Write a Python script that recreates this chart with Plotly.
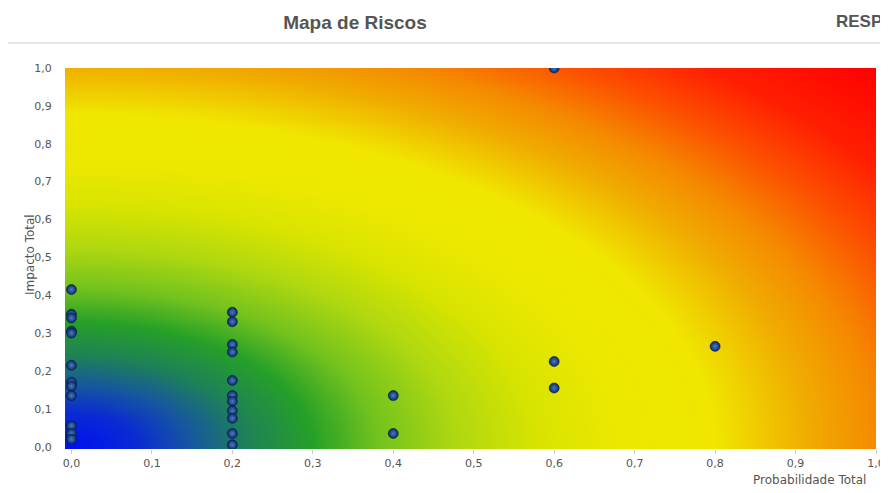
import numpy as np
import plotly.graph_objects as go

# ---- data ----
prob_0 = [0.0] * 12
imp_0 = [0.415, 0.35, 0.34, 0.305, 0.30, 0.215, 0.17, 0.16, 0.135, 0.055, 0.035, 0.02]
prob_2 = [0.2] * 11
imp_2 = [0.355, 0.33, 0.27, 0.25, 0.175, 0.135, 0.12, 0.095, 0.075, 0.035, 0.005]
prob_4 = [0.4, 0.4]
imp_4 = [0.135, 0.035]
prob_6 = [0.6, 0.6, 0.6]
imp_6 = [1.0, 0.225, 0.155]
prob_8 = [0.8]
imp_8 = [0.265]

probabilidade = prob_0 + prob_2 + prob_4 + prob_6 + prob_8
impacto = imp_0 + imp_2 + imp_4 + imp_6 + imp_8

tick_vals = [0.0, 0.1, 0.2, 0.3, 0.4, 0.5, 0.6, 0.7, 0.8, 0.9, 1.0]
tick_text = ["0,0", "0,1", "0,2", "0,3", "0,4", "0,5", "0,6", "0,7", "0,8", "0,9", "1,0"]

# ---- background risk gradient (radial from origin) ----
gx = np.linspace(-0.01, 1.0, 161)
gy = np.linspace(-0.006, 1.0, 121)
GX, GY = np.meshgrid(gx, gy)
D = np.sqrt(np.clip(GX, 0, None) ** 2 + (np.clip(GY, 0, None) / 1.1) ** 2)

dmax = 1.35
stops = [
    (0.00, "#0010f0"),
    (0.08, "#0a2ad4"),
    (0.15, "#16589e"),
    (0.22, "#1e8256"),
    (0.30, "#26a028"),
    (0.38, "#72c21e"),
    (0.48, "#b0d810"),
    (0.58, "#d8e400"),
    (0.68, "#ece800"),
    (0.80, "#f0e600"),
    (0.86, "#f0c800"),
    (0.92, "#f0aa00"),
    (1.00, "#f58a00"),
    (1.10, "#fc5000"),
    (1.20, "#ff2000"),
    (1.35, "#ff0000"),
]
colorscale = [[s / dmax, c] for s, c in stops]

fig = go.Figure()
fig.add_trace(go.Heatmap(
    x=gx, y=gy, z=D, zmin=0, zmax=dmax,
    colorscale=colorscale, showscale=False, zsmooth="best",
    hoverinfo="skip",
))
fig.add_trace(go.Scatter(
    x=probabilidade, y=impacto, mode="markers",
    marker=dict(size=10, color="#0a2a66",
                gradient=dict(type="radial", color="#4a7cc4"),
                line=dict(width=0.6, color="#031a44")),
    cliponaxis=True, showlegend=False,
))

# the page adds an 8px body margin, so the figure is placed 8px in
OFF = 8
W, H = 888 - OFF, 493 - OFF
ml, mr, mt = 65 - OFF, 12, 68 - OFF
mb = (H + OFF) - 449
pw = W - ml - mr
ph = H - mt - mb

def px_x(p):
    return (p - OFF - ml) / pw

def px_y(p):
    return (H - mb - (p - OFF)) / ph

fig.update_layout(
    width=W, height=H,
    margin=dict(l=ml, r=mr, t=mt, b=mb, autoexpand=False),
    paper_bgcolor="white", plot_bgcolor="white",
    title=dict(text="<b>Mapa de Riscos</b>", x=(355 - OFF) / W, xanchor="center",
               y=1 - (22 - OFF) / H, yanchor="middle", yref="container",
               font=dict(family="Liberation Sans, Arial", size=19, color="#555555")),
    xaxis=dict(range=[-0.008, 1.0], tickvals=tick_vals, ticktext=tick_text,
               automargin=False,
               showgrid=False, zeroline=False, showline=False,
               ticks="outside", ticklen=4, tickcolor="#cccccc",
               tickfont=dict(family="DejaVu Sans", size=11, color="#555555")),
    yaxis=dict(range=[-0.006, 1.0], tickvals=tick_vals, ticktext=tick_text,
               automargin=False,
               showgrid=False, zeroline=False, showline=False,
               ticks="outside", ticklen=4, tickcolor="#ffffff",
               ticklabelstandoff=6,
               tickfont=dict(family="DejaVu Sans", size=11, color="#555555")),
    shapes=[dict(type="line", xref="paper", yref="paper",
                 x0=px_x(OFF), x1=px_x(888), y0=px_y(43), y1=px_y(43),
                 line=dict(color="#e8e8e8", width=2))],
    annotations=[
        dict(text="<b>RESP</b>", xref="paper", yref="paper",
             x=px_x(834), y=px_y(22), xanchor="left", yanchor="middle",
             showarrow=False,
             font=dict(family="Liberation Sans, Arial", size=17, color="#555555")),
        dict(text="Impacto Total", xref="paper", yref="paper",
             x=px_x(30), y=px_y(255), xanchor="center", yanchor="middle",
             textangle=-90, showarrow=False,
             font=dict(family="DejaVu Sans", size=12, color="#555555")),
        dict(text="Probabilidade Total", xref="paper", yref="paper",
             x=px_x(868), y=px_y(480), xanchor="right", yanchor="middle",
             showarrow=False,
             font=dict(family="DejaVu Sans", size=12, color="#555555")),
    ],
)

fig.write_html("out.html")
